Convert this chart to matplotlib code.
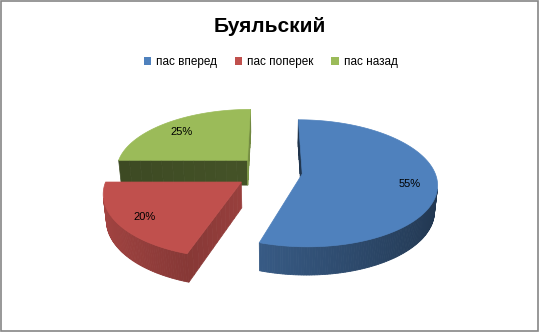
import numpy as np
import matplotlib.pyplot as plt
from matplotlib.patches import Polygon, Rectangle, Patch
from matplotlib.colors import to_rgb

plt.rcParams['font.family'] = ['Liberation Sans', 'DejaVu Sans']

title = 'Буяльский'
labels = ['пас вперед', 'пас поперек', 'пас назад']
values = [55, 20, 25]
explode = [0.23, 0.28, 0.27]
colors = ['#4F81BD', '#C0504D', '#9BBB59']

# view of the 3d pie
phi = np.radians(29.5)
D = 6.0
h = 0.22
S = 130.0
cx, cy = 272, 197


def proj(X, Y, Z):
    depth = -Y * np.cos(phi) + Z * np.sin(phi)
    f = D / (D - depth)
    sx = X * f
    sy = (Y * np.sin(phi) + Z * np.cos(phi)) * f
    return cx + S * sx, cy - S * sy


cam = np.array([0, -D * np.cos(phi), D * np.sin(phi)])


def visible(n, p):
    return np.dot(n, cam - p) > 0


def shade(c, k):
    r, g, b = to_rgb(c)
    return (r * k, g * k, b * k)


fig = plt.figure(figsize=(5.39, 3.32), dpi=100)
ax = fig.add_axes([0, 0, 1, 1])
ax.set_xlim(0, 539)
ax.set_ylim(332, 0)
ax.axis('off')

total = float(sum(values))
starts = np.concatenate([[0], np.cumsum(values)[:-1]]) / total * 360
ends = np.cumsum(values) / total * 360

slices = []
for i in range(len(values)):
    a0, a1 = starts[i], ends[i]
    b = np.radians((a0 + a1) / 2)
    o = explode[i] * np.array([np.sin(b), np.cos(b), 0])
    slices.append((-o[1] * np.cos(phi), i, a0, a1, o))
slices.sort()

for _, i, a0, a1, o in slices:
    col = colors[i]
    # radial faces
    for a, sgn in ((a0, -1), (a1, 1)):
        ar = np.radians(a)
        n = np.array([np.cos(ar), -np.sin(ar), 0]) * sgn
        rim = o + np.array([np.sin(ar), np.cos(ar), 0])
        if visible(n, (o + rim) / 2):
            k = 0.42 + 0.35 * max(n[0], 0)
            steps = 12
            for s in range(steps):
                t0, t1 = s / steps, (s + 1) / steps
                q0 = o + t0 * (rim - o)
                q1 = o + t1 * (rim - o)
                pts = [proj(q0[0], q0[1], 0), proj(q1[0], q1[1], 0),
                       proj(q1[0], q1[1], h), proj(q0[0], q0[1], h)]
                c = shade(col, k * (1.05 - 0.12 * t0))
                ax.add_patch(Polygon(pts, closed=True, fc=c, ec=c, lw=0.5))
    # outer wall
    angs = np.linspace(a0, a1, int(abs(a1 - a0)) + 2)
    for j in range(len(angs) - 1):
        am = np.radians((angs[j] + angs[j + 1]) / 2)
        n = np.array([np.sin(am), np.cos(am), 0])
        if not visible(n, o + n):
            continue
        r0, r1 = np.radians(angs[j]), np.radians(angs[j + 1])
        p0 = o + np.array([np.sin(r0), np.cos(r0), 0])
        p1 = o + np.array([np.sin(r1), np.cos(r1), 0])
        pts = [proj(p0[0], p0[1], 0), proj(p1[0], p1[1], 0),
               proj(p1[0], p1[1], h), proj(p0[0], p0[1], h)]
        k = 0.42 + 0.43 * (1 - np.sin(am)) / 2
        c = shade(col, k)
        ax.add_patch(Polygon(pts, closed=True, fc=c, ec=c, lw=0.6))
    # top face
    rr = np.radians(angs)
    top = [proj(o[0], o[1], h)]
    top += [proj(o[0] + np.sin(r), o[1] + np.cos(r), h) for r in rr]
    ax.add_patch(Polygon(top, closed=True, fc=col, ec=col, lw=0.5))
    # percent label
    bm = np.radians((a0 + a1) / 2)
    lx, ly = proj(o[0] + 0.8 * np.sin(bm), o[1] + 0.8 * np.cos(bm), h)
    ax.text(lx, ly + 2, '%d%%' % round(values[i] / total * 100),
            ha='center', va='center', fontsize=8, color='black')

fig.text(0.5, 1 - 27 / 332, title, ha='center', va='center',
         fontsize=15, fontweight='bold')

handles = [Patch(fc=c, ec='none') for c in colors]
fig.legend(handles, labels, loc='center', bbox_to_anchor=(0.502, 1 - 62 / 332),
           ncol=3, frameon=False, fontsize=8.5, handlelength=0.65,
           handleheight=0.65, handletextpad=0.4, columnspacing=1.5)

fig.patches.append(Rectangle((0.001, 0.002), 0.997, 0.995, transform=fig.transFigure,
                             fill=False, ec='#868686', lw=1.2))

fig.savefig('out.png', dpi=100)
